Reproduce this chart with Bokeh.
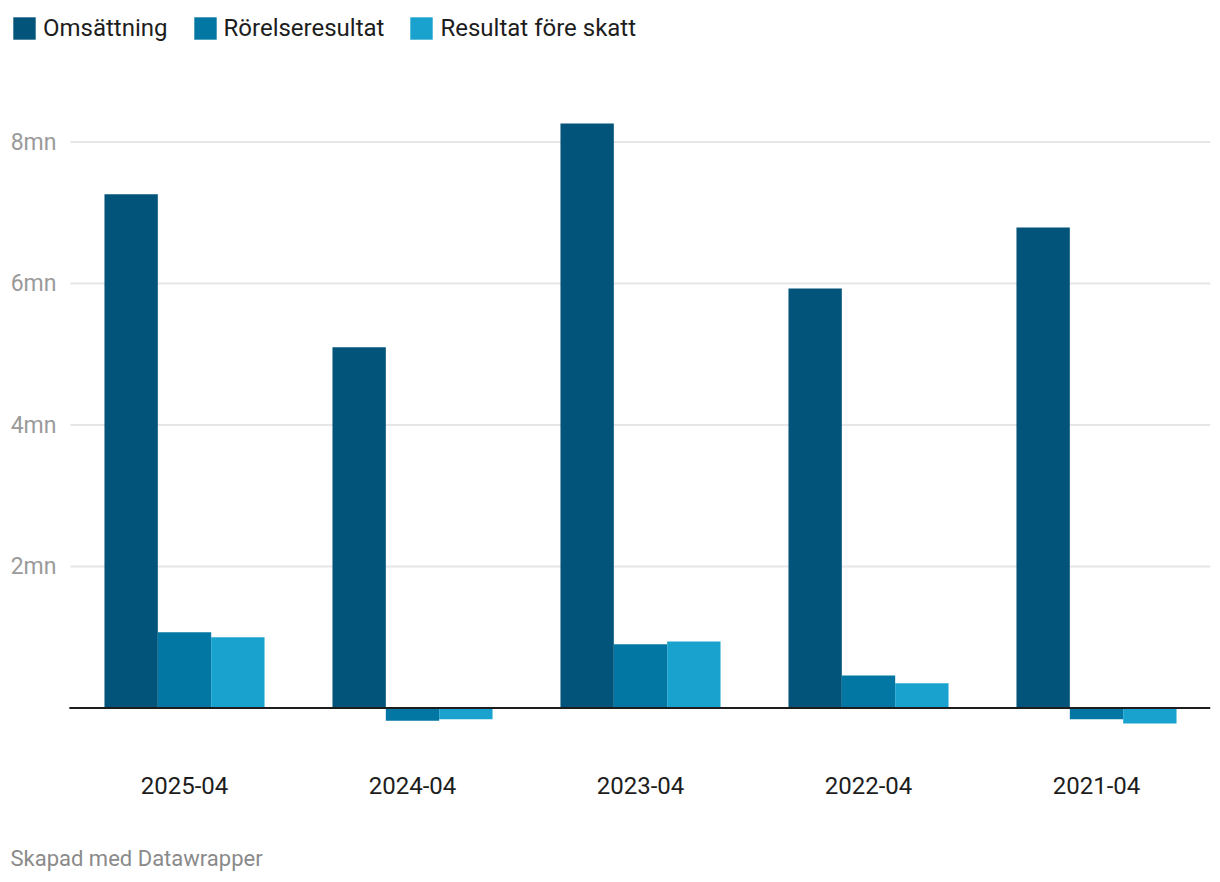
from bokeh.plotting import figure
from bokeh.models import (ColumnDataSource, Range1d, FixedTicker, Legend, LegendItem, Label)
from bokeh.transform import dodge
from bokeh.embed import file_html
from bokeh.resources import INLINE

periods = ["2025-04", "2024-04", "2023-04", "2022-04", "2021-04"]
omsattning = [7.26, 5.10, 8.26, 5.93, 6.79]
rorelseresultat = [1.07, -0.18, 0.90, 0.46, -0.16]
resultat_fore_skatt = [1.00, -0.16, 0.94, 0.35, -0.22]
series_names = ["Omsättning", "Rörelseresultat", "Resultat före skatt"]
y_ticks = [2, 4, 6, 8]
y_tick_labels = {2: "2mn", 4: "4mn", 6: "6mn", 8: "8mn"}
footer = "Skapad med Datawrapper"

colors = ["#02547a", "#0377a3", "#19a2cd"]
FONT = "Roboto"

idx = list(range(len(periods)))
src = ColumnDataSource(dict(x=idx, period=periods, oms=omsattning,
                            ror=rorelseresultat, res=resultat_fore_skatt))

# layout constants (pixels)
W, H = 1212, 874
right_border = 2
band_px = 228.0          # width of one category band
plot_left_px = 70.0      # left edge of first band
zero_px = 707.5          # y pixel of the zero line
px_per_unit = 70.75      # pixels per "mn"
axis_px = 750.0          # where the category axis sits

frame_w = W - right_border
x_start = -0.5 - plot_left_px / band_px
x_end = x_start + frame_w / band_px
y_end = zero_px / px_per_unit
y_start = -(H - zero_px) / px_per_unit
axis_y = -(axis_px - zero_px) / px_per_unit

p = figure(width=W, height=H, x_range=Range1d(x_start, x_end),
           y_range=Range1d(y_start, y_end),
           output_backend="svg", toolbar_location=None,
           min_border_left=0, min_border_right=right_border,
           min_border_top=0, min_border_bottom=0)
p.outline_line_color = None
p.background_fill_color = "white"
p.border_fill_color = "white"
p.xgrid.visible = False
p.ygrid.visible = False

band_lo = idx[0] - 0.5
band_hi = idx[-1] + 0.5

# horizontal grid lines at the y ticks, spanning the category bands
grid_src = ColumnDataSource(dict(y=y_ticks, x0=[band_lo] * len(y_ticks),
                                 x1=[band_hi] * len(y_ticks)))
p.segment(x0="x0", x1="x1", y0="y", y1="y", source=grid_src,
          line_color="#e6e6e6", line_width=2)

bw = 0.234
r1 = p.vbar(x=dodge("x", -bw), top="oms", width=bw,
            source=src, fill_color=colors[0], line_color=None)
r2 = p.vbar(x=dodge("x", 0), top="ror", width=bw,
            source=src, fill_color=colors[1], line_color=None)
r3 = p.vbar(x=dodge("x", bw), top="res", width=bw,
            source=src, fill_color=colors[2], line_color=None)

# zero baseline
p.segment(x0=[band_lo - 0.005], x1=[band_hi], y0=[0], y1=[0],
          line_color="#1d1d1d", line_width=2)

# category axis
xa = p.xaxis[0]
xa.fixed_location = axis_y
xa.ticker = FixedTicker(ticks=idx)
xa.major_label_overrides = {i: s for i, s in zip(idx, periods)}
xa.axis_line_color = None
xa.major_tick_line_color = None
xa.minor_tick_line_color = None
xa.major_label_text_font = FONT
xa.major_label_text_font_size = "24px"
xa.major_label_text_color = "#1d1d1d"
xa.major_label_standoff = 20

# value axis
ya = p.yaxis[0]
ya.fixed_location = band_lo
ya.ticker = FixedTicker(ticks=y_ticks)
ya.major_label_overrides = y_tick_labels
ya.axis_line_color = None
ya.major_tick_line_color = None
ya.minor_tick_line_color = None
ya.major_label_text_font = FONT
ya.major_label_text_font_size = "23px"
ya.major_label_text_color = "#9a9a9a"
ya.major_label_standoff = 8

legend = Legend(items=[LegendItem(label=n, renderers=[r])
                       for n, r in zip(series_names, [r1, r2, r3])],
                orientation="horizontal", location=(10, H - 42),
                glyph_width=28, glyph_height=28, label_standoff=5, spacing=23,
                padding=0, margin=0, border_line_color=None,
                background_fill_alpha=0,
                label_text_font=FONT, label_text_font_size="24px",
                label_text_color="#1d1d1d")
p.add_layout(legend, "center")

foot = Label(x=10, y=16, x_units="screen", y_units="screen",
             text=footer, text_font=FONT, text_font_size="22px",
             text_baseline="middle", text_color="#8a8a8a")
p.add_layout(foot)

open("out.html", "w").write(file_html(p, INLINE))
